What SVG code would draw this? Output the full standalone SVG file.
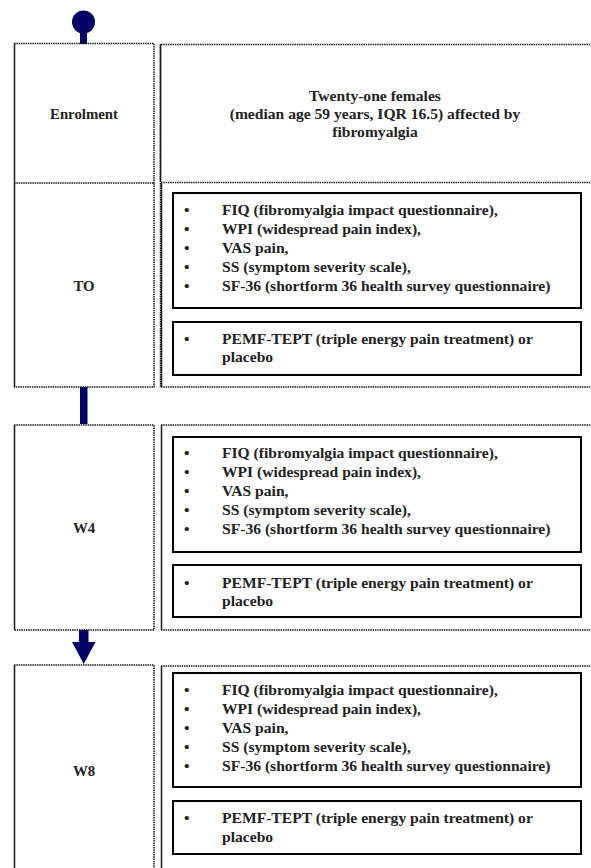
<svg xmlns="http://www.w3.org/2000/svg" width="591" height="868" viewBox="0 0 591 868">
<style>
.dot{fill:none;stroke:#1a1a1a;stroke-width:1.5;stroke-dasharray:1.5 0.8}
.sol{fill:none;stroke:#1a1a1a;stroke-width:1.5}
.inner{fill:none;stroke:#000;stroke-width:2}
text{font-family:"Liberation Serif","Times New Roman",serif;font-weight:bold;font-size:15.6px;fill:#222}
.c{text-anchor:middle}
.lbl{font-size:14.8px}
.conn{fill:#000066;stroke:none}
</style>
<rect width="591" height="868" fill="#fff"/>

<g id="connectors">
  <circle class="conn" cx="83.5" cy="22" r="11.5"/>
  <rect class="conn" x="80" y="30" width="7" height="14"/>
  <rect class="conn" x="80" y="387" width="7.5" height="37"/>
  <rect class="conn" x="79" y="630" width="9.5" height="14"/>
  <polygon class="conn" points="72,642 95.5,642 83.75,664"/>
</g>

<g id="enrolment">
  <path class="dot" d="M14,43.5 H154 V183"/>
  <path class="sol" d="M14.5,43 V183"/>
  <text class="c lbl" x="84" y="119">Enrolment</text>
</g>
<g id="enrolment-desc">
  <path class="dot" d="M160.5,182 V44.5 H591"/>
  <path class="sol" d="M160.5,182 V44"/>
  <text class="c" x="375" y="101">Twenty-one females</text>
  <text class="c" x="375" y="119">(median age 59 years, IQR 16.5) affected by</text>
  <text class="c" x="375" y="137">fibromyalgia</text>
</g>

<g id="t0">
  <path class="dot" d="M14,183 H154 V387 H14"/>
  <path class="sol" d="M14.5,183 V387"/>
  <text class="c lbl" x="84" y="291">TO</text>
</g>
<g id="t0-desc">
  <path class="dot" d="M161,182.5 H591 M161,387 H591 M160.5,183 V387"/>
  <path class="sol" d="M161.5,183 V387"/>
  <rect class="inner" x="173" y="193" width="408" height="115"/>
  <g>
    <text x="184" y="215">•</text><text x="222" y="215">FIQ (fibromyalgia impact questionnaire),</text>
    <text x="184" y="234">•</text><text x="222" y="234">WPI (widespread pain index),</text>
    <text x="184" y="253">•</text><text x="222" y="253">VAS pain,</text>
    <text x="184" y="272">•</text><text x="222" y="272">SS (symptom severity scale),</text>
    <text x="184" y="291">•</text><text x="222" y="291">SF-36 (shortform 36 health survey questionnaire)</text>
  </g>
  <rect class="inner" x="173" y="322" width="408" height="53"/>
  <text x="184" y="344">•</text><text x="222" y="344">PEMF-TEPT (triple energy pain treatment) or</text>
  <text x="222" y="362">placebo</text>
</g>

<g id="w4">
  <path class="dot" d="M14,425 H154 V630 H14"/>
  <path class="sol" d="M14.5,425 V630"/>
  <text class="c lbl" x="84" y="533">W4</text>
</g>
<g id="w4-desc">
  <path class="dot" d="M161,425 H591 M161,630 H591"/>
  <path class="sol" d="M161.5,425 V630"/>
  <rect class="inner" x="173" y="437" width="408" height="115"/>
  <text x="184" y="458">•</text><text x="222" y="458">FIQ (fibromyalgia impact questionnaire),</text>
  <text x="184" y="477">•</text><text x="222" y="477">WPI (widespread pain index),</text>
  <text x="184" y="496">•</text><text x="222" y="496">VAS pain,</text>
  <text x="184" y="515">•</text><text x="222" y="515">SS (symptom severity scale),</text>
  <text x="184" y="534">•</text><text x="222" y="534">SF-36 (shortform 36 health survey questionnaire)</text>
  <rect class="inner" x="173" y="565" width="408" height="52"/>
  <text x="184" y="588">•</text><text x="222" y="588">PEMF-TEPT (triple energy pain treatment) or</text>
  <text x="222" y="606">placebo</text>
</g>

<g id="w8">
  <path class="dot" d="M14,665 H154 V868"/>
  <path class="sol" d="M14.5,665 V868"/>
  <text class="c lbl" x="84" y="776">W8</text>
</g>
<g id="w8-desc">
  <path class="dot" d="M161,666 H591"/>
  <path class="sol" d="M161.5,666 V868"/>
  <rect class="inner" x="173" y="673" width="408" height="114"/>
  <text x="184" y="695">•</text><text x="222" y="695">FIQ (fibromyalgia impact questionnaire),</text>
  <text x="184" y="714">•</text><text x="222" y="714">WPI (widespread pain index),</text>
  <text x="184" y="733">•</text><text x="222" y="733">VAS pain,</text>
  <text x="184" y="752">•</text><text x="222" y="752">SS (symptom severity scale),</text>
  <text x="184" y="771">•</text><text x="222" y="771">SF-36 (shortform 36 health survey questionnaire)</text>
  <rect class="inner" x="173" y="801" width="408" height="53"/>
  <text x="184" y="823">•</text><text x="222" y="823">PEMF-TEPT (triple energy pain treatment) or</text>
  <text x="222" y="842">placebo</text>
</g>
</svg>
